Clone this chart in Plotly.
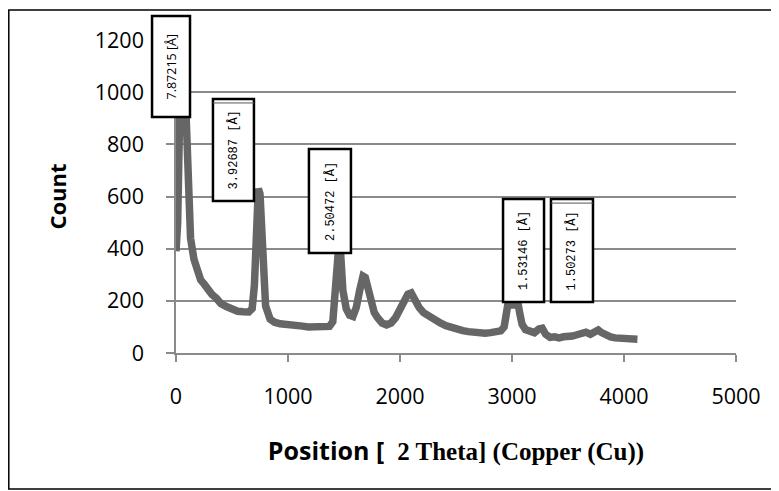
import plotly.graph_objects as go

# ---- data ----
position = [0, 15, 30, 50, 70, 90, 110, 130, 160, 190, 220, 250, 280, 320, 360, 400, 450, 500,
            550, 600, 650, 680, 700, 720, 735, 750, 770, 800, 840, 880, 930, 980, 1030, 1080,
            1130, 1180, 1230, 1280, 1330, 1370, 1400, 1420, 1440, 1455, 1470, 1490, 1520, 1550,
            1580, 1610, 1640, 1670, 1690, 1710, 1740, 1770, 1800, 1840, 1880, 1920, 1960, 2000,
            2040, 2070, 2100, 2130, 2170, 2210, 2260, 2310, 2360, 2410, 2460, 2510, 2560, 2610,
            2660, 2710, 2760, 2810, 2860, 2900, 2930, 2950, 2970, 2990, 3010, 3030, 3050, 3070,
            3090, 3120, 3160, 3200, 3240, 3270, 3300, 3340, 3380, 3420, 3460, 3500, 3540, 3580,
            3620, 3660, 3700, 3740, 3770, 3800, 3840, 3880, 3920, 3960, 4000, 4040, 4080, 4120]
count = [390, 500, 850, 1150, 1150, 900, 620, 440, 360, 320, 280, 265, 245, 225, 210, 190, 178, 168,
         160, 158, 157, 170, 260, 470, 630, 610, 420, 180, 130, 118, 112, 108, 104, 106,
         103, 100, 102, 98, 100, 102, 120, 220, 390, 420, 380, 240, 170, 145,
         140, 175, 240, 295, 290, 250, 190, 155, 135, 115, 108, 115, 135, 165,
         200, 225, 230, 205, 175, 155, 140, 128, 115, 105, 97, 92, 86, 82,
         78, 75, 76, 78, 80, 85, 100, 150, 205, 200, 175, 195, 200, 150,
         110, 90, 80, 78, 92, 95, 72, 60, 62, 58, 62, 60, 65, 70,
         78, 80, 72, 78, 88, 78, 68, 62, 58, 56, 52, 50, 52, 53]

# peak labels: d-spacings
label_text = ["7.87215 [Å]", "3.92687 [Å]", "2.50472 [Å]", "1.53146 [Å]", "1.50273 [Å]"]
label_font = ["Open Sans", "Liberation Mono", "Liberation Mono", "Liberation Mono", "Liberation Mono"]
label_size = [12.5, 12, 12, 12, 12]
# label boxes in data units: x0, x1, y0, y1
box_x0 = [-214, 330, 1187, 2920, 3348]
box_x1 = [125, 696, 1562, 3286, 3723]
box_y0 = [905, 583, 383, 196, 196]
box_y1 = [1292, 974, 782, 590, 590]
box_double_top = [False, True, False, False, True]

x_ticks = [0, 1000, 2000, 3000, 4000, 5000]
y_ticks = [0, 200, 400, 600, 800, 1000, 1200]
X_RANGE = [0, 5000]
Y_RANGE = [0, 1200]

# figure geometry (the page adds an 8px body margin)
W, H = 771, 483
ML, MR, MT, MB = 168, 43, 32, 138
PW, PH = W - ML - MR, H - MT - MB


def xp(v):
    return (v - X_RANGE[0]) / (X_RANGE[1] - X_RANGE[0])


def yp(v):
    return (v - Y_RANGE[0]) / (Y_RANGE[1] - Y_RANGE[0])


fig = go.Figure()
fig.add_trace(go.Scatter(x=position, y=count, mode="lines",
                         line=dict(color="#666666", width=7.5), hoverinfo="skip"))

shapes = []
annotations = []
for t, f, s, a, b, c, d, dbl in zip(label_text, label_font, label_size, box_x0, box_x1,
                                    box_y0, box_y1, box_double_top):
    shapes.append(dict(type="rect", xref="paper", yref="paper",
                       x0=xp(a), x1=xp(b), y0=yp(c), y1=yp(d),
                       fillcolor="white", line=dict(color="black", width=2.5), layer="above"))
    if dbl:
        inner = yp(d) - 4.0 / PH
        shapes.append(dict(type="line", xref="paper", yref="paper",
                           x0=xp(a), x1=xp(b), y0=inner, y1=inner,
                           line=dict(color="#555555", width=1), layer="above"))
    annotations.append(dict(xref="paper", yref="paper", x=(xp(a) + xp(b)) / 2, y=(yp(c) + yp(d)) / 2,
                            text=t, textangle=-90, showarrow=False,
                            font=dict(family=f, size=s, color="black"),
                            xanchor="center", yanchor="middle"))

# outer chart border (in figure pixels converted to paper units)
bx0, bx1, by0, by1 = 0.8, 764, 481, 2
shapes.append(dict(type="rect", xref="paper", yref="paper",
                   x0=(bx0 - ML) / PW, x1=(bx1 - ML) / PW,
                   y0=(H - MB - by0) / PH, y1=(H - MB - by1) / PH,
                   line=dict(color="black", width=1.5), fillcolor="rgba(0,0,0,0)", layer="above"))

fig.update_layout(
    width=W, height=H,
    margin=dict(l=ML, r=MR, t=MT, b=MB),
    paper_bgcolor="white", plot_bgcolor="white",
    showlegend=False,
    shapes=shapes, annotations=annotations,
    font=dict(family="Open Sans", color="black"),
)
fig.update_xaxes(range=X_RANGE, tickvals=x_ticks, showgrid=False, zeroline=False,
                 showline=True, linecolor="#8a8a8a", linewidth=1.5,
                 ticks="outside", ticklen=7, tickcolor="#8a8a8a", tickwidth=1.5,
                 tickfont=dict(family="Open Sans", size=21.5, color="black"),
                 ticklabelstandoff=16,
                 title=dict(text="<b>Position [  </b><b><span style='font-family:Liberation Serif'>2 Theta] (Copper (Cu))</span></b>",
                            font=dict(family="Open Sans", size=25, color="black"), standoff=34))
fig.update_yaxes(range=Y_RANGE, tickvals=y_ticks, showgrid=True, gridcolor="#8a8a8a", gridwidth=1.5,
                 zeroline=False, showline=True, linecolor="#8a8a8a", linewidth=1.5,
                 ticks="outside", ticklen=8, tickcolor="#8a8a8a", tickwidth=1.5,
                 tickfont=dict(family="Open Sans", size=21.5, color="black"),
                 ticklabelstandoff=18,
                 title=dict(text="<b>Count</b>", font=dict(family="Open Sans", size=22, color="black"),
                            standoff=22))

fig.write_html("out.html")
